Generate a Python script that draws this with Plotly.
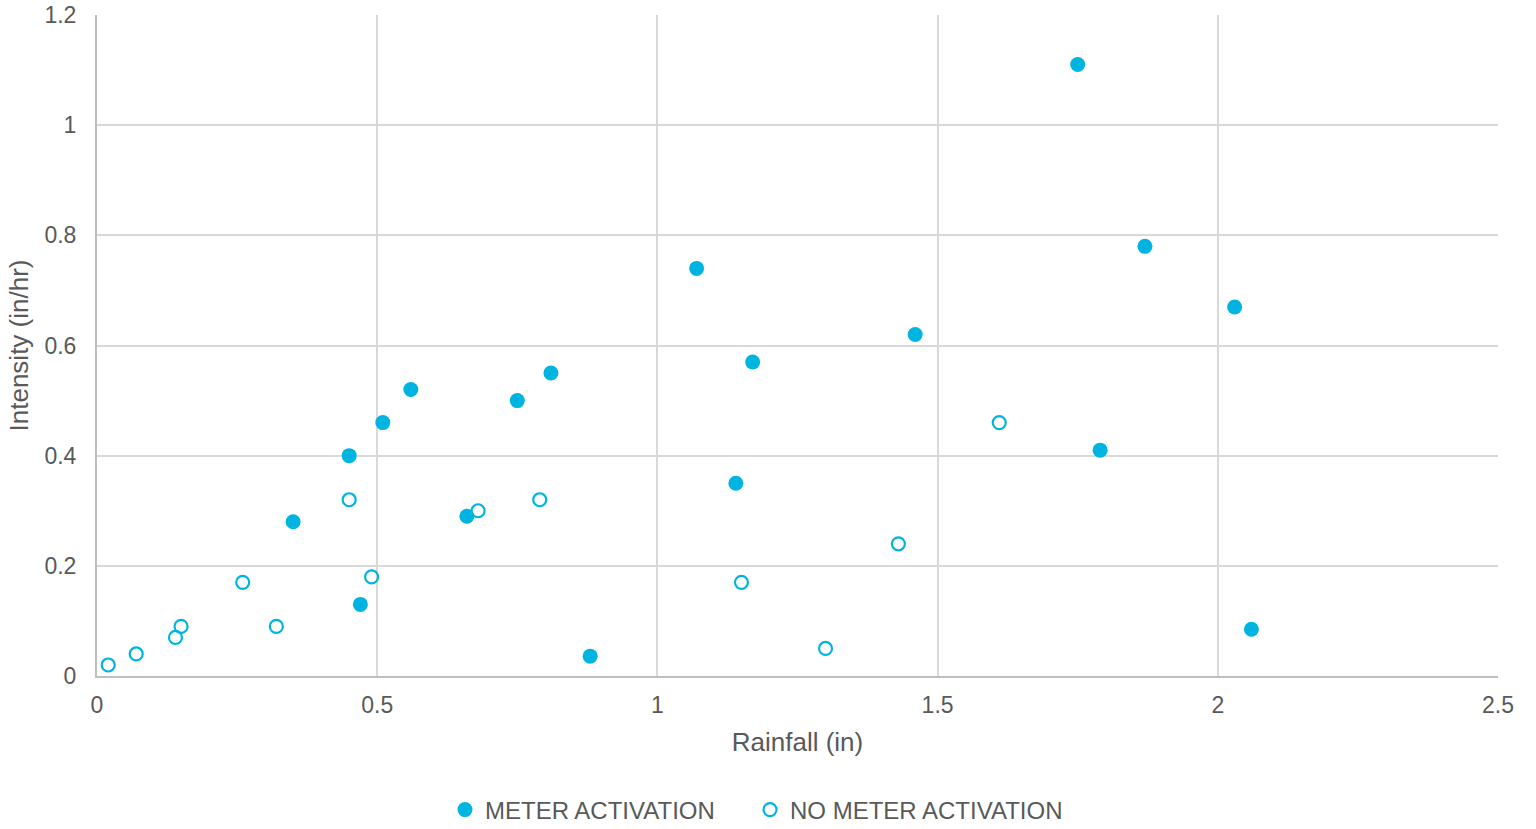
import plotly.graph_objects as go

# METER ACTIVATION (filled markers)
meter_rainfall = [1.75, 1.87, 1.07, 2.03, 1.46, 1.17, 0.81, 0.56, 0.75, 0.51, 0.45, 1.79, 1.14, 0.35, 0.66, 0.47, 2.06, 0.88]
meter_intensity = [1.11, 0.78, 0.74, 0.67, 0.62, 0.57, 0.55, 0.52, 0.50, 0.46, 0.40, 0.41, 0.35, 0.28, 0.29, 0.13, 0.085, 0.036]

# NO METER ACTIVATION (open markers)
nometer_rainfall = [1.61, 0.45, 0.68, 0.79, 1.43, 0.49, 1.15, 0.26, 0.32, 0.15, 0.14, 1.30, 0.07, 0.02]
nometer_intensity = [0.46, 0.32, 0.30, 0.32, 0.24, 0.18, 0.17, 0.17, 0.09, 0.09, 0.07, 0.05, 0.04, 0.02]

series_names = ["METER ACTIVATION", "NO METER ACTIVATION"]
x_ticks = [0, 0.5, 1, 1.5, 2, 2.5]
y_ticks = [0, 0.2, 0.4, 0.6, 0.8, 1, 1.2]

COLOR = "#00B4E1"
TXT = "#595959"
FONT = "Liberation Sans, Arial, sans-serif"

fig = go.Figure()
fig.add_trace(go.Scatter(
    x=meter_rainfall, y=meter_intensity, mode="markers", name=series_names[0],
    marker=dict(symbol="circle", size=15, color=COLOR, line=dict(width=0)),
    legend="legend",
))
fig.add_trace(go.Scatter(
    x=nometer_rainfall, y=nometer_intensity, mode="markers", name=series_names[1],
    marker=dict(symbol="circle-open", size=13, color=COLOR, line=dict(width=2.2, color=COLOR)),
    legend="legend2",
))

leg_common = dict(orientation="h", xanchor="left", y=-0.2027, yanchor="middle",
                  font=dict(size=24, color=TXT), itemwidth=30, bgcolor="rgba(0,0,0,0)")

fig.update_layout(
    width=1536, height=829,
    margin=dict(l=97, r=38, t=15, b=153, autoexpand=False),
    paper_bgcolor="white", plot_bgcolor="white",
    font=dict(family=FONT, size=23, color=TXT),
    showlegend=True,
    legend=dict(x=0.2484, **leg_common),
    legend2=dict(x=0.4661, **leg_common),
    xaxis=dict(
        range=[0, 2.5], tickvals=x_ticks, ticktext=[str(v) for v in x_ticks],
        showgrid=True, gridcolor="#D9D9D9", gridwidth=2,
        showline=True, linecolor="#BFBFBF", linewidth=2,
        zeroline=False, ticks="", ticklabelstandoff=7, automargin=False,
        ticklabeloverflow="allow",
        tickfont=dict(size=23, color=TXT),
        title=dict(text="Rainfall (in)", font=dict(size=26, color=TXT), standoff=16),
    ),
    yaxis=dict(
        range=[0, 1.2], tickvals=y_ticks, ticktext=[str(v) for v in y_ticks],
        showgrid=True, gridcolor="#D9D9D9", gridwidth=2,
        showline=True, linecolor="#BFBFBF", linewidth=2,
        zeroline=False, ticks="", ticklabelstandoff=14, automargin=False,
        ticklabeloverflow="allow",
        tickfont=dict(size=23, color=TXT),
        title=dict(text="Intensity (in/hr)", font=dict(size=26, color=TXT), standoff=8),
    ),
)

# remove the browser's default 8px body margin so the figure sits at the page origin
fig.write_html("out.html", config={"displayModeBar": False},
               post_script="document.body.style.margin='0px';")
